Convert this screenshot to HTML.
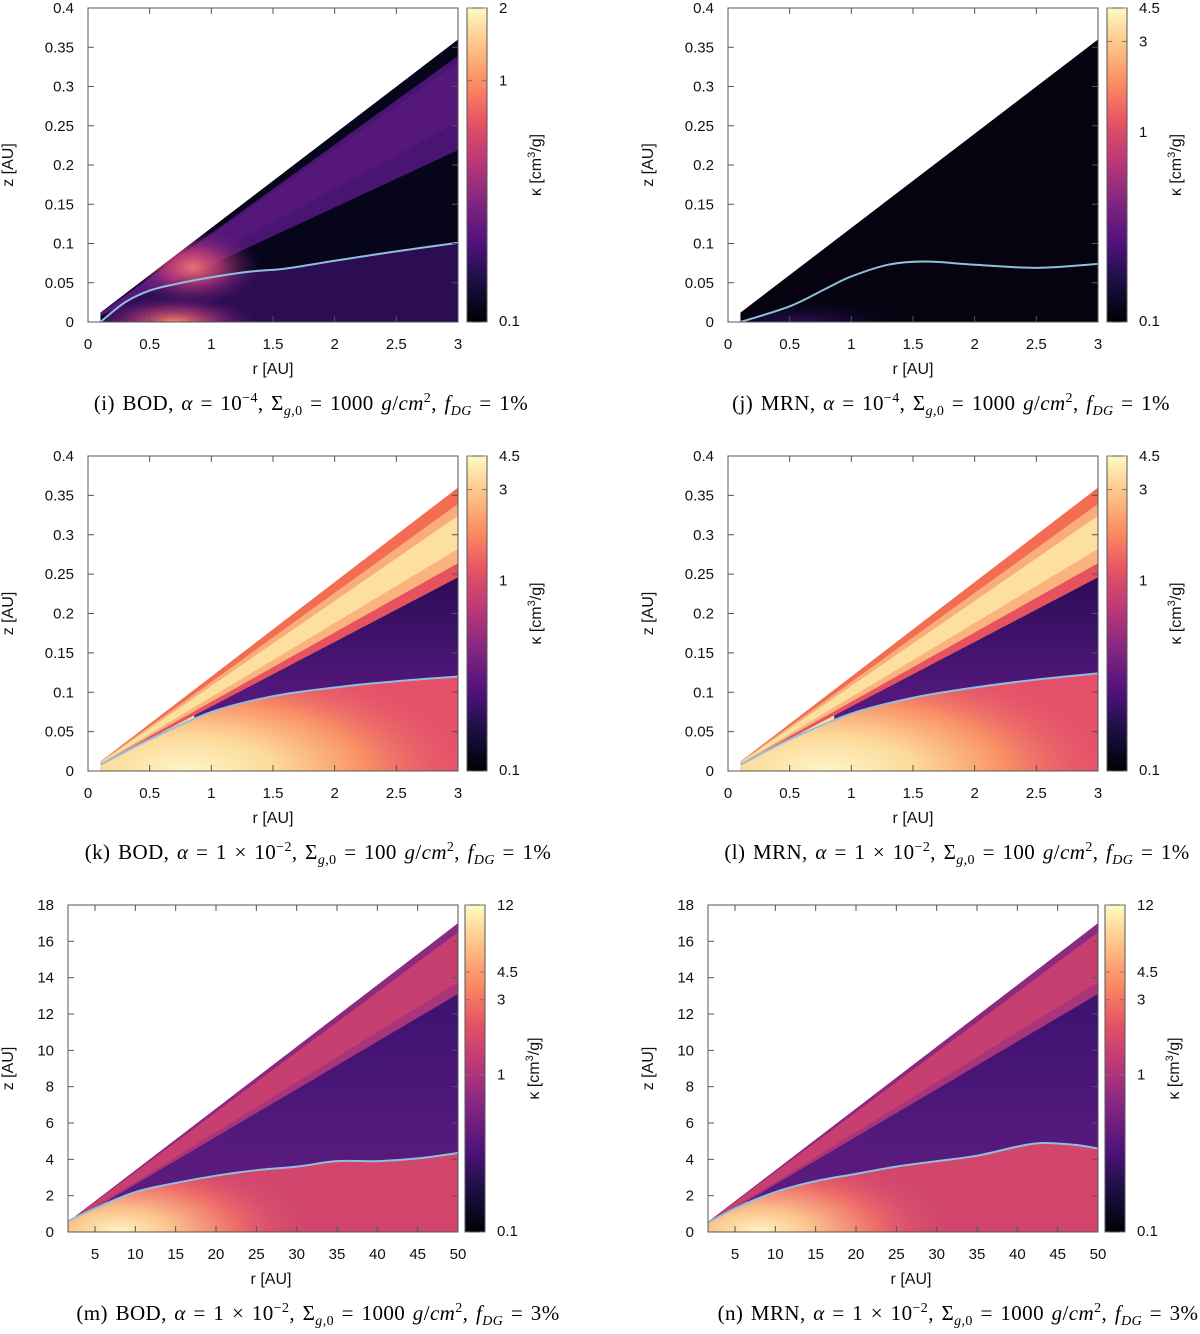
<!DOCTYPE html>
<html><head><meta charset="utf-8">
<style>
body{margin:0;background:#fff;width:1200px;height:1334px;overflow:hidden;font-family:"Liberation Sans",sans-serif}
svg{position:absolute;left:0;top:0}
.cap{position:absolute;font-family:"Liberation Serif",serif;font-size:21px;letter-spacing:0.4px;word-spacing:2px;white-space:nowrap;transform:translateX(-50%)}
.cap sup,.cap sub{font-size:14px}
</style></head>
<body>
<svg id="s" width="1200" height="1334">
<defs>
<linearGradient id="magma" x1="0" y1="1" x2="0" y2="0">
<stop offset="0" stop-color="#000004"/><stop offset="0.13" stop-color="#1c1044"/><stop offset="0.25" stop-color="#4f127b"/><stop offset="0.38" stop-color="#812581"/><stop offset="0.5" stop-color="#b5367a"/><stop offset="0.63" stop-color="#e55064"/><stop offset="0.75" stop-color="#fb8761"/><stop offset="0.88" stop-color="#fec287"/><stop offset="1" stop-color="#fcfdbf"/>
</linearGradient>
</defs>
</svg>
<div class="cap" style="left:311px;top:391px">(i) BOD, <i>α</i> = 10<sup>−4</sup>, Σ<sub><i>g</i>,0</sub> = 1000 <i>g</i>/<i>cm</i><sup>2</sup>, <i>f<sub>DG</sub></i> = 1%</div>
<div class="cap" style="left:951px;top:391px">(j) MRN, <i>α</i> = 10<sup>−4</sup>, Σ<sub><i>g</i>,0</sub> = 1000 <i>g</i>/<i>cm</i><sup>2</sup>, <i>f<sub>DG</sub></i> = 1%</div>
<div class="cap" style="left:318px;top:840px">(k) BOD, <i>α</i> = 1 × 10<sup>−2</sup>, Σ<sub><i>g</i>,0</sub> = 100 <i>g</i>/<i>cm</i><sup>2</sup>, <i>f<sub>DG</sub></i> = 1%</div>
<div class="cap" style="left:957px;top:840px">(l) MRN, <i>α</i> = 1 × 10<sup>−2</sup>, Σ<sub><i>g</i>,0</sub> = 100 <i>g</i>/<i>cm</i><sup>2</sup>, <i>f<sub>DG</sub></i> = 1%</div>
<div class="cap" style="left:318px;top:1301px">(m) BOD, <i>α</i> = 1 × 10<sup>−2</sup>, Σ<sub><i>g</i>,0</sub> = 1000 <i>g</i>/<i>cm</i><sup>2</sup>, <i>f<sub>DG</sub></i> = 3%</div>
<div class="cap" style="left:958px;top:1301px">(n) MRN, <i>α</i> = 1 × 10<sup>−2</sup>, Σ<sub><i>g</i>,0</sub> = 1000 <i>g</i>/<i>cm</i><sup>2</sup>, <i>f<sub>DG</sub></i> = 3%</div>
<script>
// data arrays
const xTicksSmall=[0,0.5,1,1.5,2,2.5,3];
const yTicksSmall=[0,0.05,0.1,0.15,0.2,0.25,0.3,0.35,0.4];
const xTicksBig=[5,10,15,20,25,30,35,40,45,50];
const yTicksBig=[0,2,4,6,8,10,12,14,16,18];
const cbTicksI=[0.1,1,2];
const cbTicksJ=[0.1,1,3,4.5];
const cbTicksM=[0.1,1,3,4.5,12];
const rI=[0.1,0.3,0.5,0.7,1,1.3,1.6,2,2.5,3];
const zI=[0,0.025,0.04,0.048,0.057,0.064,0.068,0.078,0.09,0.101];
const rJ=[0.1,0.5,0.8,1,1.3,1.6,2,2.5,3];
const zJ=[0,0.02,0.043,0.058,0.073,0.077,0.073,0.069,0.074];
const rK=[0.1,0.5,1,1.5,2,2.5,3];
const zK=[0.008,0.04,0.075,0.095,0.106,0.114,0.12];
const rL=[0.1,0.5,1,1.5,2,2.5,3];
const zL=[0.008,0.04,0.073,0.093,0.106,0.116,0.124];
const rM=[1.65,5,10,15,20,25,30,35,40,45,50];
const zM=[0.6,1.3,2.2,2.7,3.1,3.4,3.6,3.9,3.9,4.05,4.35];
const rN=[1.65,5,10,15,20,25,30,35,40,43,47,50];
const zN=[0.5,1.3,2.2,2.8,3.2,3.6,3.9,4.2,4.7,4.9,4.8,4.6];

const NS="http://www.w3.org/2000/svg";
const svg=document.getElementById('s');
const defs=svg.querySelector('defs');
function mk(tag,attrs,parent){const e=document.createElementNS(NS,tag);for(const k in attrs)e.setAttribute(k,attrs[k]);(parent||svg).appendChild(e);return e;}
function interp(rs,zs,r){if(r<=rs[0])return zs[0];for(let i=1;i<rs.length;i++){if(r<=rs[i]){const t=(r-rs[i-1])/(rs[i]-rs[i-1]);return zs[i-1]+t*(zs[i]-zs[i-1]);}}return zs[zs.length-1];}
function smoothPath(pts){let d='M'+pts[0][0]+','+pts[0][1];for(let i=0;i<pts.length-1;i++){const p0=pts[Math.max(0,i-1)],p1=pts[i],p2=pts[i+1],p3=pts[Math.min(pts.length-1,i+2)];const c1=[p1[0]+(p2[0]-p0[0])/6,p1[1]+(p2[1]-p0[1])/6],c2=[p2[0]-(p3[0]-p1[0])/6,p2[1]-(p3[1]-p1[1])/6];d+=` C${c1[0]},${c1[1]} ${c2[0]},${c2[1]} ${p2[0]},${p2[1]}`;}return d;}

const panels=[
 {id:'i',x0:88,x1:458,y0:8,y1:322,rA:0,rB:3,zMax:0.4,r0:0.1,s:0.12,xt:xTicksSmall,yt:yTicksSmall,cbMax:2,cbT:cbTicksI,lr:rI,lz:zI,type:'i'},
 {id:'j',x0:728,x1:1098,y0:8,y1:322,rA:0,rB:3,zMax:0.4,r0:0.1,s:0.12,xt:xTicksSmall,yt:yTicksSmall,cbMax:4.5,cbT:cbTicksJ,lr:rJ,lz:zJ,type:'j'},
 {id:'k',x0:88,x1:458,y0:456,y1:771,rA:0,rB:3,zMax:0.4,r0:0.1,s:0.12,xt:xTicksSmall,yt:yTicksSmall,cbMax:4.5,cbT:cbTicksJ,lr:rK,lz:zK,type:'k'},
 {id:'l',x0:728,x1:1098,y0:456,y1:771,rA:0,rB:3,zMax:0.4,r0:0.1,s:0.12,xt:xTicksSmall,yt:yTicksSmall,cbMax:4.5,cbT:cbTicksJ,lr:rL,lz:zL,type:'k'},
 {id:'m',x0:68,x1:458,y0:905,y1:1232,rA:1.65,rB:50,zMax:18,r0:1.65,s:0.34,xt:xTicksBig,yt:yTicksBig,cbMax:12,cbT:cbTicksM,lr:rM,lz:zM,type:'m'},
 {id:'n',x0:708,x1:1098,y0:905,y1:1232,rA:1.65,rB:50,zMax:18,r0:1.65,s:0.34,xt:xTicksBig,yt:yTicksBig,cbMax:12,cbT:cbTicksM,lr:rN,lz:zN,type:'m'}
];

panels.forEach(p=>{
 const X=r=>p.x0+(r-p.rA)/(p.rB-p.rA)*(p.x1-p.x0);
 const Y=z=>p.y1-z/p.zMax*(p.y1-p.y0);
 const g=mk('g',{});
 
 
 const cid='clip'+p.id;
 const cp=mk('clipPath',{id:cid},defs);
 const wedgePts=[[p.r0,0],[p.r0,p.s*p.r0],[p.rB,p.s*p.rB],[p.rB,0]];
 mk('polygon',{points:wedgePts.map(q=>X(q[0])+','+Y(q[1])).join(' ')},cp);
 const hg=mk('g',{'clip-path':'url(#'+cid+')'},g);
 
 
 const poly=(pts,fill,op)=>mk('polygon',{points:pts.map(q=>X(q[0])+','+Y(q[1])).join(' '),fill:fill,opacity:op==null?1:op},hg);
 const N=80,rs=[];for(let i=0;i<=N;i++)rs.push(p.r0+(p.rB-p.r0)*i/N);
 const band=(a,b,fill,op)=>poly([[p.r0,a*p.r0]].concat(rs.map(r=>[r,a*r])).concat(rs.slice().reverse().map(r=>[r,b*r])),fill,op);
 const below=rs.map(r=>[r,interp(p.lr,p.lz,r)]).concat([[p.rB,0],[p.r0,0]]);
 const radial=(id,cx,cy,rx,ry,stops)=>{const gr=mk('radialGradient',{id:id,gradientUnits:'userSpaceOnUse',cx:X(cx),cy:Y(cy),r:X(cx+rx)-X(cx),gradientTransform:`translate(${X(cx)} ${Y(cy)}) scale(1 ${(Y(0)-Y(ry))/(X(cx+rx)-X(cx))}) translate(${-X(cx)} ${-Y(cy)})`},defs);stops.forEach(s=>mk('stop',{offset:s[0],'stop-color':s[1],'stop-opacity':s[2]==null?1:s[2]},gr));return 'url(#'+id+')';};
 const darkAbove=(a,rmin)=>{const pts=[];rs.forEach(r=>{if(r>=rmin&&interp(p.lr,p.lz,r)<a*r)pts.push(r);});if(!pts.length)return;return [pts.map(r=>[r,a*r]),pts.slice().reverse().map(r=>[r,interp(p.lr,p.lz,r)])];};
 if(p.type==='i'){
  poly(wedgePts,'#07051a');
  band(0.073,0.113,'#4a1572');
  band(0.085,0.11,'#5a1a7e',0.7);
  poly(below,'#2c0c52');
  poly(below,radial('gb'+p.id,0.7,0,0.7,0.035,[[0,'#f58a62'],[0.5,'#b5367a',0.6],[1,'#3a0f6a',0]]));
  poly(wedgePts,radial('gl'+p.id,0.85,0.07,0.55,0.05,[[0,'#ee7070'],[0.4,'#c23c78',0.8],[1,'#5a1a7e',0]]));
 } else if(p.type==='j'){
  poly(wedgePts,'#04030f');
  poly(below,radial('gb'+p.id,0.6,0,0.9,0.03,[[0,'#3b1068',0.8],[1,'#0a0620',0]]));
 } else if(p.type==='k'){
  poly(wedgePts,'#fde0a0');
  band(0.113,0.12,'#f26d52');
  band(0.108,0.113,'#f8a070',0.8);
  band(0.082,0.088,'#e8525e');
  band(0.088,0.094,'#f6a070',0.7);
  const d=darkAbove(0.082,0.85);
  if(d){const gr=mk('linearGradient',{id:'dk'+p.id,x1:0,y1:0,x2:0,y2:1},defs);mk('stop',{offset:0,'stop-color':'#2c0c58'},gr);mk('stop',{offset:1,'stop-color':'#5a1a82'},gr);poly(d[0].concat(d[1]),'url(#dk'+p.id+')');}
  poly(below,'#e4506a');
  poly(below,radial('gb'+p.id,0.8,0,2.4,0.15,[[0,'#fdf6c6'],[0.3,'#fdd99a'],[0.6,'#f99266'],[1,'#e4506a',0]]));
 } else {
  poly(wedgePts,'#c63f70');
  band(0.33,0.34,'#8a2a80');
  band(0.26,0.275,'#a2327c',0.8);
  const d=darkAbove(0.262,6);
  if(d){const gr=mk('linearGradient',{id:'dk'+p.id,x1:0,y1:0,x2:0,y2:1},defs);mk('stop',{offset:0,'stop-color':'#3c1270'},gr);mk('stop',{offset:1,'stop-color':'#5e1c80'},gr);poly(d[0].concat(d[1]),'url(#dk'+p.id+')');}
  poly(below,'#d2466e');
  poly(below,radial('gb'+p.id,8,0,24,4.5,[[0,'#fdf4c4'],[0.25,'#fcc88e'],[0.6,'#ee6e68'],[1,'#d2466e',0]]));
 }
 // blue line
 const line=mk('path',{d:smoothPath(p.lr.map((r,i)=>[X(r),Y(p.lz[i])])),fill:'none',stroke:'#8ec0de','stroke-width':2},g);
 
 
 // frame
 mk('rect',{x:p.x0,y:p.y0,width:p.x1-p.x0,height:p.y1-p.y0,fill:'none',stroke:'#555','stroke-width':1},g);
 p.xt.forEach(v=>{const x=X(v);mk('line',{x1:x,x2:x,y1:p.y1,y2:p.y1-6,stroke:'#555'},g);mk('line',{x1:x,x2:x,y1:p.y0,y2:p.y0+6,stroke:'#555'},g);
  const t=mk('text',{x:x,y:p.y1+27,'text-anchor':'middle','font-size':15,fill:'#111'},g);t.textContent=v;
  });
 p.yt.forEach(v=>{const y=Y(v);mk('line',{x1:p.x0,x2:p.x0+6,y1:y,y2:y,stroke:'#555'},g);mk('line',{x1:p.x1,x2:p.x1-6,y1:y,y2:y,stroke:'#555'},g);
  const t=mk('text',{x:p.x0-14,y:y+5,'text-anchor':'end','font-size':15,fill:'#111'},g);t.textContent=v;
  });
 const xl=mk('text',{x:(p.x0+p.x1)/2+(p.type==='m'?8:0),y:p.y1+52,'text-anchor':'middle','font-size':16,fill:'#111'},g);xl.textContent='r [AU]';
 
 const ylx=p.x0-(p.type==='m'?55:75);
 const yl=mk('text',{x:ylx,y:(p.y0+p.y1)/2,'text-anchor':'middle','font-size':16,fill:'#111',transform:`rotate(-90 ${ylx} ${(p.y0+p.y1)/2})`},g);yl.textContent='z [AU]';
 
 // colorbar
 const cx0=p.x1+(p.type==='m'?7:9),cw=20;
 const cb=mk('rect',{x:cx0,y:p.y0,width:cw,height:p.y1-p.y0,fill:'url(#magma)',stroke:'#555','stroke-width':1},g);
 
 const CY=v=>p.y1-Math.log(v/0.1)/Math.log(p.cbMax/0.1)*(p.y1-p.y0);
 p.cbT.forEach(v=>{const y=CY(v);mk('line',{x1:cx0,x2:cx0+5,y1:y,y2:y,stroke:'#777'},g);mk('line',{x1:cx0+cw,x2:cx0+cw-5,y1:y,y2:y,stroke:'#777'},g);
  const t=mk('text',{x:cx0+cw+12,y:y+5+(v===0.1?-1:0),'font-size':15,fill:'#111'},g);t.textContent=v;
  });
 const kx=cx0+cw+54, ky=(p.y0+p.y1)/2;
 const kl=mk('text',{x:kx,y:ky,'text-anchor':'middle','font-size':16,fill:'#111',transform:`rotate(-90 ${kx} ${ky})`},g);
 kl.innerHTML='κ [cm<tspan dy="-6" font-size="11">3</tspan><tspan dy="6">/g]</tspan>';
 
});
</script>
</body></html>
